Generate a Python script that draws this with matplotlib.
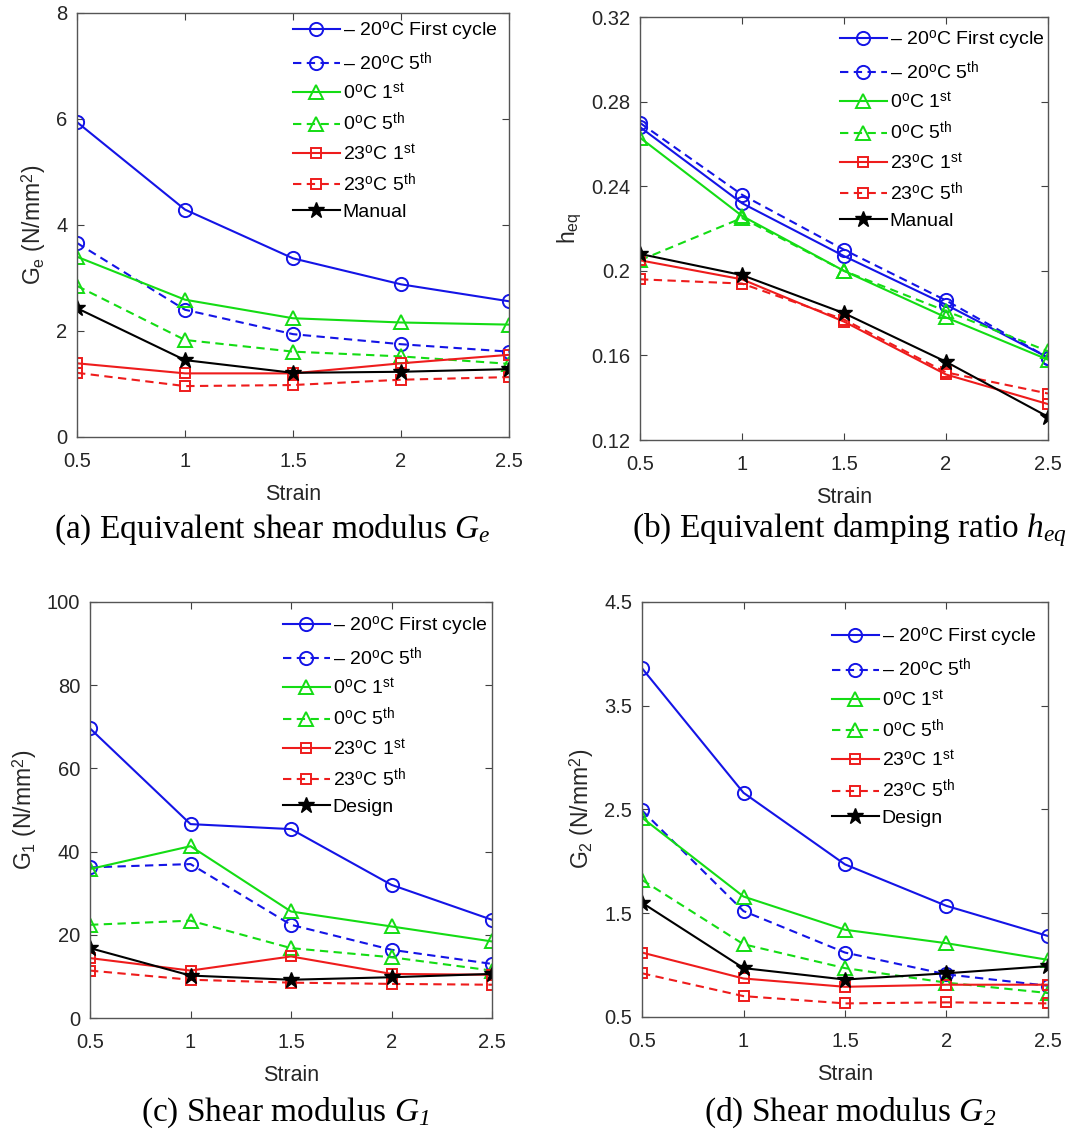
import matplotlib
matplotlib.use("Agg")
import matplotlib.pyplot as plt

plt.rcParams['font.family'] = ['Liberation Sans', 'DejaVu Sans']
plt.rcParams['mathtext.fontset'] = 'custom'
plt.rcParams['mathtext.rm'] = 'Liberation Sans'
plt.rcParams['mathtext.it'] = 'Liberation Serif:italic'
# italic serif digits for the caption subscripts
plt.rcParams['mathtext.sf'] = 'Liberation Serif:italic'

# strain levels (shared by all four panels)
strain = [0.5, 1.0, 1.5, 2.0, 2.5]
strain_ticks = ['0.5', '1', '1.5', '2', '2.5']

# (a) equivalent shear modulus Ge, N/mm2
ge_m20_1 = [5.94, 4.29, 3.37, 2.88, 2.56]
ge_m20_5 = [3.66, 2.40, 1.94, 1.75, 1.61]
ge_0_1 = [3.40, 2.59, 2.24, 2.16, 2.12]
ge_0_5 = [2.85, 1.83, 1.61, 1.52, 1.38]
ge_23_1 = [1.39, 1.20, 1.20, 1.39, 1.55]
ge_23_5 = [1.21, 0.96, 0.98, 1.08, 1.13]
ge_manual = [2.43, 1.45, 1.21, 1.23, 1.28]

# (b) equivalent damping ratio heq
heq_m20_1 = [0.268, 0.232, 0.207, 0.184, 0.159]
heq_m20_5 = [0.270, 0.236, 0.210, 0.186, 0.159]
heq_0_1 = [0.263, 0.226, 0.200, 0.178, 0.158]
heq_0_5 = [0.205, 0.225, 0.200, 0.181, 0.162]
heq_23_1 = [0.205, 0.196, 0.176, 0.151, 0.137]
heq_23_5 = [0.196, 0.194, 0.177, 0.152, 0.142]
heq_manual = [0.208, 0.198, 0.180, 0.157, 0.131]

# (c) shear modulus G1, N/mm2
g1_m20_1 = [69.6, 46.6, 45.4, 32.0, 23.6]
g1_m20_5 = [36.2, 37.0, 22.4, 16.4, 13.0]
g1_0_1 = [35.8, 41.3, 25.6, 22.0, 18.4]
g1_0_5 = [22.4, 23.4, 16.8, 14.6, 11.4]
g1_23_1 = [14.4, 11.4, 14.8, 10.6, 10.4]
g1_23_5 = [11.4, 9.2, 8.5, 8.2, 8.0]
g1_design = [16.8, 10.2, 9.2, 9.8, 10.6]

# (d) shear modulus G2, N/mm2
g2_m20_1 = [3.86, 2.66, 1.97, 1.57, 1.28]
g2_m20_5 = [2.49, 1.52, 1.12, 0.91, 0.80]
g2_0_1 = [2.42, 1.66, 1.34, 1.21, 1.05]
g2_0_5 = [1.82, 1.20, 0.97, 0.83, 0.73]
g2_23_1 = [1.12, 0.87, 0.79, 0.81, 0.81]
g2_23_5 = [0.92, 0.70, 0.63, 0.64, 0.63]
g2_design = [1.60, 0.97, 0.86, 0.92, 0.99]

labels = ['\u2013 20$^{\\rm o}$C First cycle',
          '\u2013 20$^{\\rm o}$C 5$^{\\rm th}$',
          '0$^{\\rm o}$C 1$^{\\rm st}$',
          '0$^{\\rm o}$C 5$^{\\rm th}$',
          '23$^{\\rm o}$C 1$^{\\rm st}$',
          '23$^{\\rm o}$C 5$^{\\rm th}$']

BLUE = '#1414e6'
GREEN = '#14dc14'
RED = '#ee1c1c'
DASH = (0, (4, 2.6))

styles = [(BLUE, '-', 'o', 9.5), (BLUE, DASH, 'o', 9.5),
          (GREEN, '-', '^', 10), (GREEN, DASH, '^', 10),
          (RED, '-', 's', 7), (RED, DASH, 's', 7)]


def panel(rect, series, ref, ref_label, yticks, ylabels, ylabel, leg_xy):
    ax = fig.add_axes(rect)
    for ydata, lab, (c, ls, mk, ms) in zip(series, labels, styles):
        ax.plot(strain, ydata, color=c, ls=ls, marker=mk, ms=ms, lw=1.5,
                mfc='none', mec=c, mew=1.4, label=lab)
    ax.plot(strain, ref, color='k', ls='-', marker='*', ms=12, lw=1.5,
            mfc='k', mec='k', label=ref_label)

    ax.set_xlim(0.5, 2.5)
    ax.set_ylim(yticks[0], yticks[-1])
    ax.set_xticks(strain)
    ax.set_xticklabels(strain_ticks)
    ax.set_yticks(yticks)
    ax.set_yticklabels(ylabels)
    ax.tick_params(direction='in', length=5, width=0.8, color='#404040',
                   labelsize=14.5, labelcolor='#262626', top=True, right=True)
    ax.tick_params(axis='x', pad=11)
    ax.tick_params(axis='y', pad=7)
    for sp in ax.spines.values():
        sp.set_color('#555555')
        sp.set_linewidth(1.0)
    ax.set_xlabel('Strain', fontsize=15.5, color='#262626', labelpad=9)
    ax.set_ylabel(ylabel, fontsize=16.5, color='#262626', labelpad=6)

    ax.legend(loc='upper left', bbox_to_anchor=leg_xy,
              bbox_transform=fig.transFigure, frameon=False, fontsize=14,
              handlelength=2.4, handletextpad=0.15, labelspacing=0.42,
              borderpad=0, borderaxespad=0)
    return ax


fig = plt.figure(figsize=(10.91, 11.4), dpi=100)

panel([0.0706, 0.6167, 0.396, 0.3719],
      [ge_m20_1, ge_m20_5, ge_0_1, ge_0_5, ge_23_1, ge_23_5], ge_manual,
      'Manual', [0, 2, 4, 6, 8], ['0', '2', '4', '6', '8'],
      'G$_{\\rm e}$ (N/mm$^{\\rm 2}$)', (0.2686, 0.983))

panel([0.5866, 0.614, 0.374, 0.371],
      [heq_m20_1, heq_m20_5, heq_0_1, heq_0_5, heq_23_1, heq_23_5],
      heq_manual, 'Manual', [0.12, 0.16, 0.2, 0.24, 0.28, 0.32],
      ['0.12', '0.16', '0.2', '0.24', '0.28', '0.32'],
      'h$_{\\rm eq}$', (0.770, 0.975))

panel([0.0825, 0.107, 0.3685, 0.365],
      [g1_m20_1, g1_m20_5, g1_0_1, g1_0_5, g1_23_1, g1_23_5], g1_design,
      'Design', [0, 20, 40, 60, 80, 100],
      ['0', '20', '40', '60', '80', '100'],
      'G$_{\\rm 1}$ (N/mm$^{\\rm 2}$)', (0.2594, 0.461))

panel([0.5885, 0.108, 0.372, 0.364],
      [g2_m20_1, g2_m20_5, g2_0_1, g2_0_5, g2_23_1, g2_23_5], g2_design,
      'Design', [0.5, 1.5, 2.5, 3.5, 4.5],
      ['0.5', '1.5', '2.5', '3.5', '4.5'],
      'G$_{\\rm 2}$ (N/mm$^{\\rm 2}$)', (0.7626, 0.451))

# captions under each panel
cap = dict(ha='center', va='center', fontsize=24, family='Liberation Serif')
fig.text(272 / 1091, 1 - 530 / 1140, '(a) Equivalent shear modulus $G_e$', **cap)
fig.text(850 / 1091, 1 - 530 / 1140, '(b) Equivalent damping ratio $h_{eq}$', **cap)
fig.text(285 / 1091, 1 - 1113 / 1140, '(c) Shear modulus $G_{\\mathsf{1}}$', **cap)
fig.text(850 / 1091, 1 - 1113 / 1140, '(d) Shear modulus $G_{\\mathsf{2}}$', **cap)

fig.savefig('out.png', dpi=100)
